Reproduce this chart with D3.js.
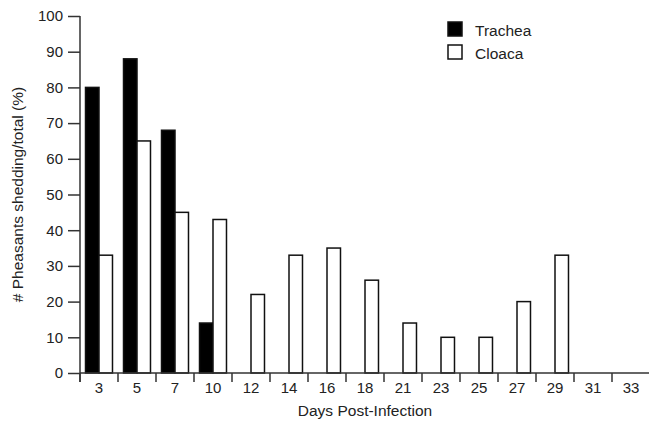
<!DOCTYPE html>
<html>
<head>
<meta charset="utf-8">
<script src="https://cdn.jsdelivr.net/npm/d3@7"></script>
<style>
  body { margin: 0; background: #fff; overflow: hidden; }
  svg { display: block; }
  text { font-family: "Liberation Sans", Arial, sans-serif; fill: #222; }
</style>
</head>
<body>
<script>
// days after infection (x categories)
var days = ["3", "5", "7", "10", "12", "14", "16", "18", "21", "23", "25", "27", "29", "31", "33"];
// % of pheasants shedding
var trachea = [80, 88, 68, 14, 0, 0, 0, 0, 0, 0, 0, 0, 0, 0, 0];
var cloaca = [33, 65, 45, 43, 22, 33, 35, 26, 14, 10, 10, 20, 33, 0, 0];
var series = ["Trachea", "Cloaca"];
var yTicks = [0, 10, 20, 30, 40, 50, 60, 70, 80, 90, 100];

var width = 649, height = 423;
var plotLeft = 80, plotRight = 650, plotTop = 16, plotBottom = 373;

var svg = d3.select("body").append("svg")
    .attr("width", width)
    .attr("height", height);

// scales
var x0 = d3.scaleBand().domain(days).range([plotLeft, plotRight])
    .paddingInner(0.29).paddingOuter(0.145);
var x1 = d3.scaleBand().domain(series).range([0, x0.bandwidth()]);
var y = d3.scaleLinear().domain([0, 100]).range([plotBottom, plotTop]);
var fill = d3.scaleOrdinal().domain(series).range(["#000", "#fff"]);

var rows = days.map(function(d, i) {
  return {day: d, values: [
    {key: "Trachea", value: trachea[i]},
    {key: "Cloaca", value: cloaca[i]}
  ]};
});

// bars
var groups = svg.selectAll("g.day")
    .data(rows)
  .enter().append("g")
    .attr("class", "day")
    .attr("transform", function(d) { return "translate(" + x0(d.day) + ",0)"; });

groups.selectAll("rect")
    .data(function(d) { return d.values; })
  .enter().append("rect")
    .attr("x", function(d) { return x1(d.key); })
    .attr("y", function(d) { return y(d.value); })
    .attr("width", x1.bandwidth())
    .attr("height", function(d) { return plotBottom - y(d.value); })
    .attr("fill", function(d) { return fill(d.key); })
    .attr("stroke", "#111")
    .attr("stroke-width", 1.5);

// y axis
var yAxis = svg.append("g")
    .attr("transform", "translate(" + plotLeft + ",0)")
    .call(d3.axisLeft(y).tickValues(yTicks).tickSize(12).tickPadding(5).tickSizeOuter(0));
yAxis.select(".domain").attr("stroke", "#333").attr("stroke-width", 1.5)
    .attr("d", "M0," + plotTop + "V" + (plotBottom + 9));
yAxis.selectAll(".tick line").attr("stroke", "#333").attr("stroke-width", 1.5);
yAxis.selectAll("text").style("font-size", "15px").attr("fill", "#222");

// x axis: labels centred on categories, ticks between categories
var xAxis = svg.append("g")
    .attr("transform", "translate(0," + plotBottom + ")")
    .call(d3.axisBottom(x0).tickSize(0).tickPadding(9));
xAxis.select(".domain").attr("stroke", "#333").attr("stroke-width", 1.5)
    .attr("d", "M" + plotLeft + ",0H" + plotRight);
xAxis.selectAll("text").style("font-size", "15px").attr("fill", "#222");

var edge = x0.step() * x0.paddingOuter();
xAxis.selectAll("line.sep")
    .data(days)
  .enter().append("line")
    .attr("class", "sep")
    .attr("x1", function(d) { return x0(d) - edge; })
    .attr("x2", function(d) { return x0(d) - edge; })
    .attr("y1", 0)
    .attr("y2", 9)
    .attr("stroke", "#333")
    .attr("stroke-width", 1.5);

// axis titles
svg.append("text")
    .attr("x", 365)
    .attr("y", 416)
    .attr("text-anchor", "middle")
    .style("font-size", "15.5px")
    .text("Days Post-Infection");

svg.append("text")
    .attr("transform", "translate(23," + ((plotTop + plotBottom) / 2) + ") rotate(-90)")
    .attr("text-anchor", "middle")
    .style("font-size", "15.5px")
    .text("# Pheasants shedding/total (%)");

// legend
var legend = svg.selectAll("g.legend")
    .data(series)
  .enter().append("g")
    .attr("class", "legend")
    .attr("transform", function(d, i) { return "translate(448," + (22 + i * 23) + ")"; });

legend.append("rect")
    .attr("width", 14)
    .attr("height", 14)
    .attr("fill", function(d) { return fill(d); })
    .attr("stroke", "#111")
    .attr("stroke-width", 1.5);

legend.append("text")
    .attr("x", 27)
    .attr("y", 14)
    .style("font-size", "15.5px")
    .text(function(d) { return d; });
</script>
</body>
</html>
